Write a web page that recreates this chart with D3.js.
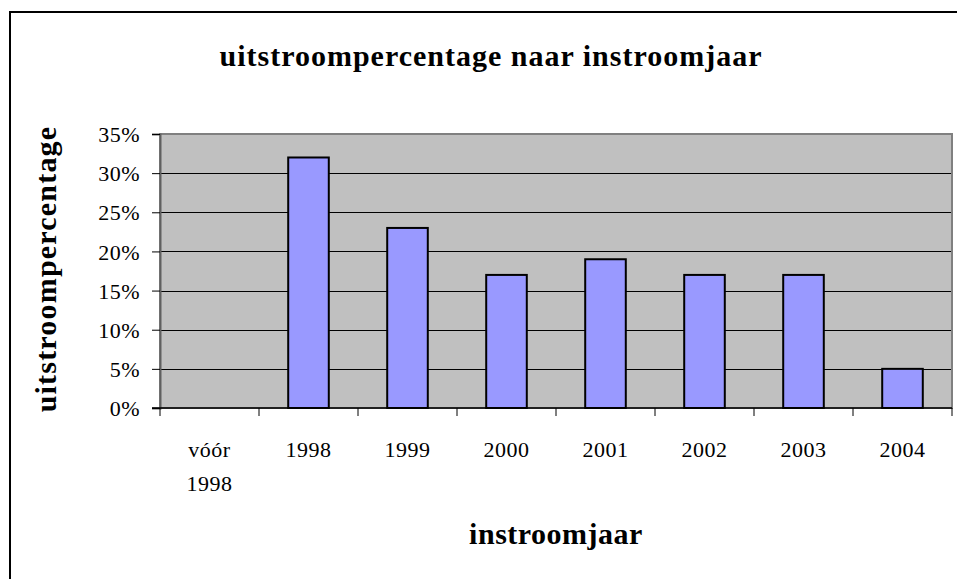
<!DOCTYPE html>
<html>
<head>
<meta charset="utf-8">
<script src="https://cdn.jsdelivr.net/npm/d3@7"></script>
<style>
  body { margin: 0; background: #fff; }
  text { font-family: "Liberation Serif", "DejaVu Serif", serif; fill: #000; }
</style>
</head>
<body>
<div id="chart"></div>
<script>
// chart data
const categories = ["vóór 1998", "1998", "1999", "2000", "2001", "2002", "2003", "2004"];
const values = [null, 0.32, 0.23, 0.17, 0.19, 0.17, 0.17, 0.05];
const yTicks = [0, 0.05, 0.10, 0.15, 0.20, 0.25, 0.30, 0.35];

const width = 957;
const height = 579;
const plot = { left: 160, right: 952, top: 134, bottom: 408 };

const svg = d3.select("#chart").append("svg")
  .attr("width", width)
  .attr("height", height);

// outer frame (runs off the right and bottom edges)
svg.append("rect")
  .attr("x", 10).attr("y", 12)
  .attr("width", 1000).attr("height", 600)
  .attr("fill", "#fff")
  .attr("stroke", "#000")
  .attr("stroke-width", 2);

const x = d3.scaleBand()
  .domain(categories)
  .range([plot.left, plot.right])
  .padding(0);

const y = d3.scaleLinear()
  .domain([0, 0.35])
  .range([plot.bottom, plot.top]);

// plot background
svg.append("rect")
  .attr("x", plot.left).attr("y", plot.top)
  .attr("width", plot.right - plot.left)
  .attr("height", plot.bottom - plot.top)
  .attr("fill", "#c0c0c0");

// gridlines
svg.append("g")
  .selectAll("line")
  .data(yTicks.filter(d => d > 0 && d < 0.35))
  .enter().append("line")
  .attr("x1", plot.left).attr("x2", plot.right)
  .attr("y1", d => Math.round(y(d)) + 0.5)
  .attr("y2", d => Math.round(y(d)) + 0.5)
  .attr("stroke", "#000")
  .attr("stroke-width", 1);

// plot border
svg.append("rect")
  .attr("x", plot.left).attr("y", plot.top)
  .attr("width", plot.right - plot.left)
  .attr("height", plot.bottom - plot.top)
  .attr("fill", "none")
  .attr("stroke", "#808080")
  .attr("stroke-width", 2);

// bars
const barW = x.bandwidth() * 0.41;
svg.append("g")
  .selectAll("rect")
  .data(categories.map((c, i) => ({ c: c, v: values[i] })).filter(d => d.v != null))
  .enter().append("rect")
  .attr("x", d => x(d.c) + (x.bandwidth() - barW) / 2)
  .attr("y", d => y(d.v))
  .attr("width", barW)
  .attr("height", d => y(0) - y(d.v))
  .attr("fill", "#9999ff")
  .attr("stroke", "#000")
  .attr("stroke-width", 2);

// y axis
const yAxis = d3.axisLeft(y)
  .tickValues(yTicks)
  .tickFormat(d3.format(".0%"))
  .tickSize(8)
  .tickPadding(12);

const gy = svg.append("g")
  .attr("transform", `translate(${plot.left},0)`)
  .call(yAxis);
gy.select(".domain").attr("stroke", "#606060").attr("stroke-width", 2);
gy.selectAll(".tick line").attr("stroke", "#000");
gy.selectAll(".tick text")
  .style("font-size", "22px")
  .style("letter-spacing", "0.5px")
  .attr("dy", "0.35em");

// x axis: ticks on category boundaries
const xAxisLine = svg.append("g");
xAxisLine.append("line")
  .attr("x1", plot.left - 8).attr("x2", plot.right)
  .attr("y1", plot.bottom).attr("y2", plot.bottom)
  .attr("stroke", "#000").attr("stroke-width", 1.5);
xAxisLine.selectAll(".cat-tick")
  .data(categories.concat(["end"]))
  .enter().append("line")
  .attr("class", "cat-tick")
  .attr("x1", (d, i) => plot.left + i * x.step())
  .attr("x2", (d, i) => plot.left + i * x.step())
  .attr("y1", plot.bottom).attr("y2", plot.bottom + 8)
  .attr("stroke", "#000");

// category labels (wrapped like the original)
const labels = svg.append("g")
  .selectAll("text")
  .data(categories)
  .enter().append("text")
  .attr("x", d => x(d) + x.bandwidth() / 2)
  .attr("y", 457)
  .attr("text-anchor", "middle")
  .style("font-size", "22px")
  .style("letter-spacing", "0.5px");

labels.each(function (d) {
  const parts = d.split(" ");
  const t = d3.select(this);
  parts.forEach((p, i) => {
    t.append("tspan")
      .attr("x", x(d) + x.bandwidth() / 2)
      .attr("dy", i === 0 ? 0 : 34)
      .text(p);
  });
});

// titles
svg.append("text")
  .attr("x", 491).attr("y", 66)
  .attr("text-anchor", "middle")
  .style("font-size", "30px")
  .style("letter-spacing", "1px")
  .style("font-weight", "bold")
  .text("uitstroompercentage naar instroomjaar");

svg.append("text")
  .attr("x", 556).attr("y", 544)
  .attr("text-anchor", "middle")
  .style("font-size", "30px")
  .style("letter-spacing", "0.5px")
  .style("font-weight", "bold")
  .text("instroomjaar");

svg.append("text")
  .attr("transform", "translate(56,269) rotate(-90)")
  .attr("text-anchor", "middle")
  .style("font-size", "30px")
  .style("letter-spacing", "1.2px")
  .style("font-weight", "bold")
  .text("uitstroompercentage");
</script>
</body>
</html>
